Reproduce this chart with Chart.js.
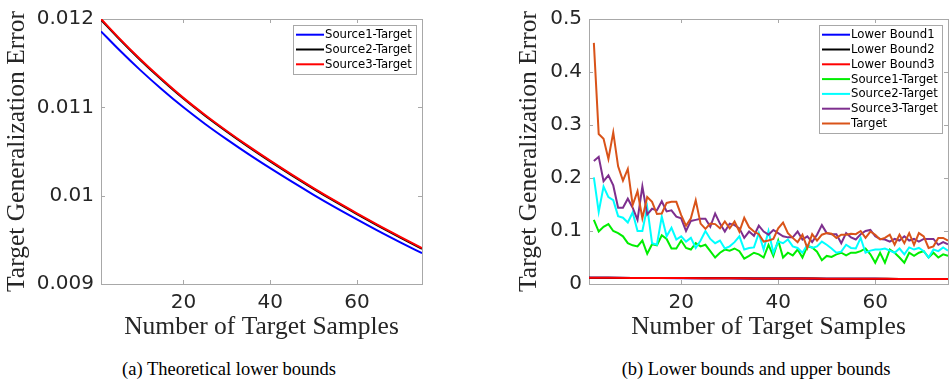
<!DOCTYPE html>
<html>
<head>
<meta charset="utf-8">
<script src="https://cdn.jsdelivr.net/npm/chart.js@4.4.0/dist/chart.umd.min.js"></script>
<style>
  html, body { margin: 0; padding: 0; background: #fff; }
  body { width: 950px; height: 379px; position: relative; overflow: hidden; }
  .panel { position: absolute; top: 0; width: 475px; height: 345px; }
  #left { left: 0; }
  #right { left: 475px; }
  .cap { position: absolute; top: 358px; line-height: 22px; font-family: "Liberation Serif", serif;
         font-size: 18.5px; color: #000; white-space: nowrap; transform: translateX(-50%); }
</style>
</head>
<body>
<div class="panel" id="left"><canvas id="chartA" width="475" height="345"></canvas></div>
<div class="panel" id="right"><canvas id="chartB" width="475" height="345"></canvas></div>
<div class="cap" style="left:229px">(a) Theoretical lower bounds</div>
<div class="cap" style="left:756px">(b) Lower bounds and upper bounds</div>
<script>
// x positions (number of target samples)
const boundX = [1, 5, 10, 15, 20, 25, 30, 35, 40, 45, 50, 55, 60, 65, 70, 75];
const sampleX = [2, 3, 4, 5, 6, 7, 8, 9, 10, 11, 12, 13, 14, 15, 16, 17, 18, 19, 20, 21, 22, 23, 24, 25,
  26, 27, 28, 29, 30, 31, 32, 33, 34, 35, 36, 37, 38, 39, 40, 41, 42, 43, 44, 45, 46, 47, 48, 49,
  50, 51, 52, 53, 54, 55, 56, 57, 58, 59, 60, 61, 62, 63, 64, 65, 66, 67, 68, 69, 70, 71, 72, 73, 74, 75];

// theoretical lower bounds
const bound1 = [0.011860, 0.011660, 0.011424, 0.011205, 0.011000, 0.010812, 0.010637, 0.010470, 0.010311, 0.010158, 0.010010, 0.009868, 0.009732, 0.009599, 0.009472, 0.009349];
const bound2 = [0.011992, 0.011784, 0.011539, 0.011312, 0.011099, 0.010905, 0.010724, 0.010552, 0.010388, 0.010230, 0.010078, 0.009932, 0.009792, 0.009656, 0.009525, 0.009399];
const bound3 = [0.012000, 0.011792, 0.011547, 0.011320, 0.011107, 0.010913, 0.010732, 0.010560, 0.010396, 0.010238, 0.010086, 0.009940, 0.009800, 0.009664, 0.009533, 0.009407];

// measured errors (upper bounds)
const source1 = [0.121, 0.099, 0.108, 0.113, 0.100, 0.096, 0.090, 0.077, 0.073, 0.071, 0.082, 0.057, 0.075, 0.073, 0.092, 0.085,
  0.067, 0.067, 0.082, 0.068, 0.065, 0.077, 0.071, 0.074, 0.062, 0.050, 0.059, 0.065, 0.063, 0.067, 0.062, 0.048,
  0.053, 0.059, 0.056, 0.050, 0.074, 0.053, 0.082, 0.050, 0.059, 0.054, 0.065, 0.050, 0.071, 0.069, 0.061, 0.045,
  0.053, 0.051, 0.056, 0.059, 0.054, 0.059, 0.059, 0.062, 0.067, 0.056, 0.040, 0.059, 0.040, 0.065, 0.059, 0.050,
  0.040, 0.059, 0.053, 0.059, 0.062, 0.050, 0.059, 0.050, 0.056, 0.053];
const source2 = [0.201, 0.136, 0.184, 0.164, 0.158, 0.128, 0.125, 0.116, 0.135, 0.100, 0.100, 0.145, 0.077, 0.074, 0.127, 0.090,
  0.106, 0.084, 0.090, 0.080, 0.087, 0.068, 0.082, 0.100, 0.085, 0.077, 0.082, 0.067, 0.071, 0.079, 0.090, 0.065,
  0.068, 0.069, 0.096, 0.065, 0.100, 0.059, 0.080, 0.077, 0.084, 0.071, 0.068, 0.059, 0.074, 0.068, 0.071, 0.080,
  0.074, 0.067, 0.059, 0.061, 0.074, 0.068, 0.067, 0.087, 0.059, 0.063, 0.065, 0.065, 0.067, 0.063, 0.059, 0.067,
  0.056, 0.069, 0.065, 0.068, 0.062, 0.050, 0.065, 0.062, 0.069, 0.063];
const source3 = [0.232, 0.240, 0.194, 0.205, 0.186, 0.144, 0.144, 0.161, 0.144, 0.121, 0.184, 0.131, 0.142, 0.139, 0.156, 0.137,
  0.139, 0.127, 0.124, 0.100, 0.119, 0.121, 0.123, 0.123, 0.108, 0.133, 0.114, 0.099, 0.114, 0.111, 0.105, 0.087,
  0.099, 0.091, 0.110, 0.099, 0.093, 0.102, 0.096, 0.090, 0.088, 0.088, 0.099, 0.084, 0.090, 0.079, 0.093, 0.111,
  0.096, 0.094, 0.094, 0.077, 0.096, 0.088, 0.084, 0.094, 0.100, 0.102, 0.090, 0.085, 0.084, 0.080, 0.085, 0.082,
  0.090, 0.082, 0.085, 0.080, 0.085, 0.085, 0.085, 0.074, 0.079, 0.075];
const target = [0.455, 0.283, 0.274, 0.236, 0.286, 0.222, 0.195, 0.217, 0.149, 0.175, 0.124, 0.164, 0.155, 0.132, 0.133, 0.153,
  0.155, 0.155, 0.130, 0.110, 0.124, 0.158, 0.114, 0.104, 0.114, 0.113, 0.105, 0.118, 0.105, 0.118, 0.099, 0.125,
  0.107, 0.099, 0.094, 0.080, 0.082, 0.085, 0.105, 0.116, 0.096, 0.087, 0.079, 0.093, 0.068, 0.094, 0.082, 0.093,
  0.096, 0.095, 0.087, 0.093, 0.093, 0.095, 0.094, 0.100, 0.087, 0.099, 0.093, 0.084, 0.087, 0.093, 0.074, 0.093,
  0.077, 0.096, 0.074, 0.096, 0.090, 0.068, 0.071, 0.087, 0.087, 0.082];

// tick labels
const xTicks = [20, 40, 60];
const leftYTicks = [0.009, 0.010, 0.011, 0.012];
const leftYLabels = ['0.009', '0.01', '0.011', '0.012'];
const rightYTicks = [0, 0.1, 0.2, 0.3, 0.4, 0.5];
const rightYLabels = ['0', '0.1', '0.2', '0.3', '0.4', '0.5'];

const textColor = '#262626';
const boxColor = '#a8a8a8';

function pts(xs, ys) {
  return xs.map((x, i) => ({ x: x, y: ys[i] }));
}

// axes box with small inward ticks, like the matlab figure
const axesBox = {
  id: 'axesBox',
  beforeDatasetsDraw(chart) {
    const { ctx, chartArea: a, scales } = chart;
    ctx.save();
    ctx.strokeStyle = boxColor;
    ctx.lineWidth = 1;
    ctx.strokeRect(a.left + 0.5, a.top + 0.5, a.right - a.left, a.bottom - a.top);
    ctx.beginPath();
    scales.x.ticks.forEach(t => {
      const px = Math.round(scales.x.getPixelForValue(t.value)) + 0.5;
      ctx.moveTo(px, a.bottom); ctx.lineTo(px, a.bottom - 4);
      ctx.moveTo(px, a.top); ctx.lineTo(px, a.top + 4);
    });
    scales.y.ticks.forEach(t => {
      const py = Math.round(scales.y.getPixelForValue(t.value)) + 0.5;
      ctx.moveTo(a.left, py); ctx.lineTo(a.left + 4, py);
      ctx.moveTo(a.right, py); ctx.lineTo(a.right - 4, py);
    });
    ctx.stroke();
    ctx.restore();
  }
};

// boxed legend in the upper right corner of the plot
const boxLegend = {
  id: 'boxLegend',
  afterDraw(chart, args, opts) {
    const { ctx, chartArea: a } = chart;
    const sets = chart.data.datasets;
    ctx.save();
    ctx.font = opts.font;
    const textW = Math.max(...sets.map(d => ctx.measureText(d.label).width));
    const w = opts.padLeft + opts.lineLen + opts.gap + textW + opts.padRight;
    const h = opts.padTop * 2 + sets.length * opts.rowH;
    const x0 = Math.round(a.right - opts.offsetRight - w);
    const y0 = Math.round(a.top + opts.offsetTop);
    ctx.fillStyle = '#fff';
    ctx.fillRect(x0, y0, w, h);
    ctx.strokeStyle = boxColor;
    ctx.lineWidth = 1;
    ctx.strokeRect(x0 + 0.5, y0 + 0.5, Math.round(w), Math.round(h));
    ctx.textBaseline = 'middle';
    sets.forEach((d, i) => {
      const cy = y0 + opts.padTop + opts.rowH * (i + 0.5);
      ctx.strokeStyle = d.borderColor;
      ctx.lineWidth = 2;
      ctx.beginPath();
      ctx.moveTo(x0 + opts.padLeft, cy);
      ctx.lineTo(x0 + opts.padLeft + opts.lineLen, cy);
      ctx.stroke();
      ctx.fillStyle = '#000';
      ctx.fillText(d.label, x0 + opts.padLeft + opts.lineLen + opts.gap, cy + 0.5);
    });
    ctx.restore();
  }
};

function makeOptions(yMin, yMax, yTicks, yLabels, axisWidth, yTitlePad, padRight) {
  return {
    responsive: false,
    animation: false,
    layout: { padding: { top: 14, right: padRight, left: 0, bottom: 0 } },
    elements: { point: { radius: 0 }, line: { borderWidth: 2 } },
    scales: {
      x: {
        type: 'linear',
        min: 1,
        max: 75,
        afterBuildTicks: s => { s.ticks = xTicks.map(v => ({ value: v })); },
        afterFit: s => { s.height = 61; },
        grid: { display: false, drawTicks: false },
        border: { display: false },
        ticks: { padding: 7, color: textColor, font: { family: 'DejaVu Sans', size: 20 } },
        title: {
          display: true,
          text: 'Number of Target Samples',
          color: textColor,
          padding: { top: 0, bottom: 2 },
          font: { family: 'Liberation Serif', size: 25.5 }
        }
      },
      y: {
        min: yMin,
        max: yMax,
        afterBuildTicks: s => { s.ticks = yTicks.map(v => ({ value: v })); },
        afterFit: s => { s.width = axisWidth; },
        grid: { display: false, drawTicks: false },
        border: { display: false },
        ticks: {
          padding: 7,
          color: textColor,
          font: { family: 'DejaVu Sans', size: 20 },
          callback: (v, i) => yLabels[i]
        },
        title: {
          display: true,
          text: 'Target Generalization Error',
          color: textColor,
          padding: { top: yTitlePad, bottom: 0 },
          font: { family: 'Liberation Serif', size: 25.5 }
        }
      }
    },
    plugins: {
      legend: { display: false },
      tooltip: { enabled: false },
      boxLegend: {
        font: '11.7px "DejaVu Sans"',
        padLeft: 3, lineLen: 28, gap: 1, padRight: 4,
        padTop: 2.3, rowH: 14.8,
        offsetRight: 6, offsetTop: 6
      }
    }
  };
}

new Chart(document.getElementById('chartA'), {
  type: 'line',
  data: {
    datasets: [
      { label: 'Source1-Target', data: pts(boundX, bound1), borderColor: '#0000ff', cubicInterpolationMode: 'monotone', order: 3 },
      { label: 'Source2-Target', data: pts(boundX, bound2), borderColor: '#000000', cubicInterpolationMode: 'monotone', order: 2 },
      { label: 'Source3-Target', data: pts(boundX, bound3), borderColor: '#ff0000', cubicInterpolationMode: 'monotone', order: 1 }
    ]
  },
  options: makeOptions(0.009, 0.012, leftYTicks, leftYLabels, 101, 2, 53),
  plugins: [axesBox, boxLegend]
});

new Chart(document.getElementById('chartB'), {
  type: 'line',
  data: {
    datasets: [
      { label: 'Lower Bound1', data: pts(boundX, bound1), borderColor: '#0000ff', cubicInterpolationMode: 'monotone', order: 7 },
      { label: 'Lower Bound2', data: pts(boundX, bound2), borderColor: '#000000', cubicInterpolationMode: 'monotone', order: 6 },
      { label: 'Lower Bound3', data: pts(boundX, bound3), borderColor: '#ff0000', cubicInterpolationMode: 'monotone', order: 5 },
      { label: 'Source1-Target', data: pts(sampleX, source1), borderColor: '#00ee00', order: 4 },
      { label: 'Source2-Target', data: pts(sampleX, source2), borderColor: '#00ffff', order: 3 },
      { label: 'Source3-Target', data: pts(sampleX, source3), borderColor: '#7e2f8e', order: 2 },
      { label: 'Target', data: pts(sampleX, target), borderColor: '#d95319', order: 1 }
    ]
  },
  options: makeOptions(0, 0.5, rightYTicks, rightYLabels, 114, 39, 2),
  plugins: [axesBox, boxLegend]
});
</script>
</body>
</html>
